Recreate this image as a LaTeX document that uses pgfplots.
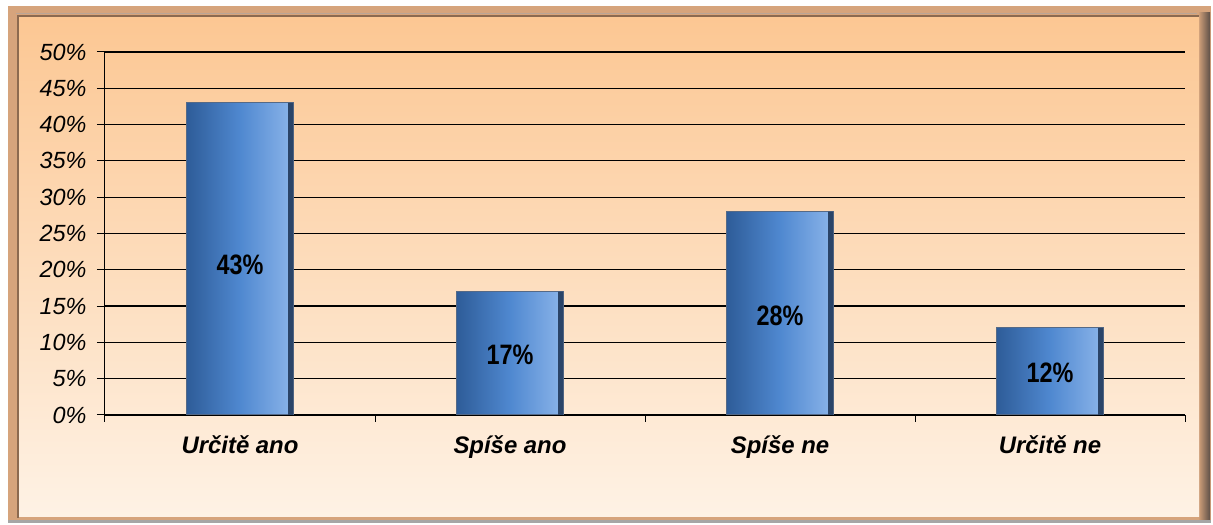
\documentclass[border=0pt]{standalone}
\usepackage{pgfplots}
\pgfplotsset{compat=1.18}
\usepackage{graphicx}
\usepackage{fontspec}
\setmainfont{Liberation Sans}
\definecolor{bgtop}{HTML}{FCC793}
\definecolor{bgbot}{HTML}{FEF2E5}
\definecolor{frameA}{HTML}{D6A47C}
\definecolor{frameD}{HTML}{8C6A50}
\definecolor{frameS}{HTML}{5E5048}
\definecolor{barL}{HTML}{2E5C98}
\definecolor{barM}{HTML}{4F88D0}
\definecolor{barR}{HTML}{8CB5EA}
\definecolor{barE}{HTML}{2A4468}
\pgfplotsset{
  bevelbar/.style={ybar, bar width=107bp, bar shift=0pt,
    left color=barL, right color=barR, middle color=barM,
    draw=barE!80, line width=1bp},
  edgebar/.style={ybar, bar width=5bp, bar shift=50.5bp, fill=barE, draw=none},
}
\begin{document}
\begin{tikzpicture}[x=1bp,y=1bp]
\begin{scope}[shift={(-105,-110)}]
\useasboundingbox (0,0) rectangle (1213,525);
\fill[white] (0,0) rectangle (1213,525);
% frame
\fill[frameA] (8,2) rectangle (1211,519);
\shade[left color=frameA, right color=frameS] (1198,4) rectangle (1210,512);
\fill[gray!70] (8,2) rectangle (1211,5);
\shade[top color=bgtop, bottom color=bgbot] (19,8) rectangle (1199,508);
\draw[frameD, line width=2bp] (18,7) -- (18,509) -- (1199,509);
\draw[frameD!60, line width=1bp] (16,511) -- (1197,511);
\end{scope}
% axis
\begin{axis}[
  scale only axis, width=1080bp, height=363bp,
  xmin=0.5, xmax=4.5, ymin=0, ymax=50,
  axis lines=left, axis line style={-, black, line width=1bp},
  ytick={0,5,...,50},
  yticklabels={0\%,5\%,10\%,15\%,20\%,25\%,30\%,35\%,40\%,45\%,50\%},
  xtick={1,2,3,4},
  xticklabels={Určitě ano, Spíše ano, Spíše ne, Určitě ne},
  minor xtick={0.5,1.5,2.5,3.5,4.5},
  major x tick style={draw=none},
  tick align=outside, major tick length=8bp, minor tick length=7bp,
  ymajorgrids, grid style={black, line width=1.2bp},
  tick style={black, line width=1bp},
  yticklabel style={font=\fontsize{23.5}{25}\selectfont\itshape, xshift=-7bp},
  xticklabel style={font=\fontsize{24}{26}\selectfont\bfseries\itshape, yshift=-9bp},
  /pgf/number format/assume math mode=true,
  clip=false,
]
\addplot[bevelbar] coordinates {(1,43)};
\addplot[bevelbar] coordinates {(2,17)};
\addplot[bevelbar] coordinates {(3,28)};
\addplot[bevelbar] coordinates {(4,12)};
\addplot[edgebar] coordinates {(1,43) (2,17) (3,28) (4,12)};
\addplot[draw=none, mark=none, point meta=explicit,
  nodes near coords={\scalebox{1}[1.2]{\pgfmathprintnumber{\pgfplotspointmeta}\%}},
  every node near coord/.append style={anchor=center, font=\fontsize{23.5}{25}\selectfont\bfseries, black}]
  coordinates {(1,20.7)[43] (2,8.3)[17] (3,13.6)[28] (4,5.8)[12]};
\end{axis}
\end{tikzpicture}
\end{document}
